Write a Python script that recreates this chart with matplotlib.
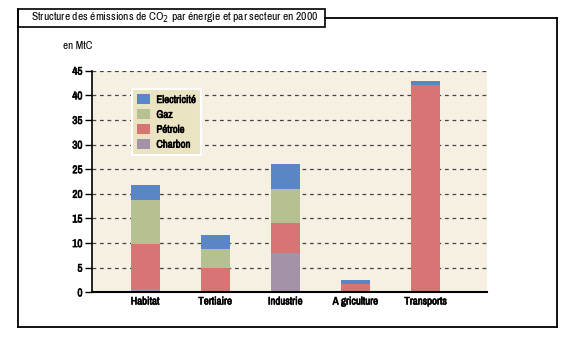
import matplotlib
matplotlib.use("Agg")
import matplotlib.pyplot as plt
import matplotlib.patheffects as pe
from matplotlib.lines import Line2D
from matplotlib.patches import Rectangle, Patch
import numpy as np

# Emissions by sector and energy source (MtC)
sectors = ["Habitat", "Tertiaire", "Industrie", "A griculture", "Transports"]
charbon = [0.7, 0.0, 8.0, 0.0, 0.0]
petrole = [9.1, 5.0, 6.1, 1.7, 42.0]
gaz = [8.9, 3.8, 6.9, 0.0, 0.0]
electricite = [3.1, 2.8, 5.1, 0.8, 0.9]
yticks = [0, 5, 10, 15, 20, 25, 30, 35, 40, 45]

COLORS = {
    "Electricité": "#5b86c6",
    "Gaz": "#b5c191",
    "Pétrole": "#d77474",
    "Charbon": "#a392a8",
}
FONT = ["Archivo Narrow", "DejaVu Sans"]
plt.rcParams["font.family"] = FONT

# narrow font has a single weight, thicken it with a thin stroke
HEAVY = [pe.withStroke(linewidth=0.45, foreground="black")]

fig = plt.figure(figsize=(5.76, 3.42), dpi=100)
ax = fig.add_axes([0.1602, 0.1453, 0.6848, 0.648])
ax.set_facecolor("#f6f0e3")

x = np.arange(len(sectors))
w = 0.41
bottom = np.zeros(len(sectors))
for label, vals in [("Charbon", charbon), ("Pétrole", petrole),
                    ("Gaz", gaz), ("Electricité", electricite)]:
    vals = np.array(vals)
    ax.bar(x, vals, w, bottom=bottom, color=COLORS[label], zorder=3)
    bottom += vals

ax.set_xlim(-0.754, 4.87)
ax.set_ylim(0, 45)
ax.set_yticks(yticks)
ax.set_yticklabels([str(t) for t in yticks], fontsize=8)
ax.set_xticks(x)
ax.set_xticklabels(sectors, fontsize=7.8)
for t in ax.get_xticklabels() + ax.get_yticklabels():
    t.set_path_effects(HEAVY)
ax.tick_params(axis="y", length=5, width=1, pad=2)
ax.tick_params(axis="x", length=0, pad=3)
ax.yaxis.grid(True, linestyle=(0, (3, 3)), color="#444444", linewidth=0.9, zorder=1)
ax.set_axisbelow(True)
for s in ["top", "right"]:
    ax.spines[s].set_visible(False)
ax.spines["left"].set_linewidth(1.2)
ax.spines["bottom"].set_linewidth(1.5)
ax.spines["bottom"].set_zorder(4)

handles = [Patch(facecolor=COLORS[k]) for k in COLORS]
leg = ax.legend(handles, list(COLORS.keys()), loc="upper left",
                bbox_to_anchor=(0.087, 0.942), frameon=True,
                fancybox=False, handlelength=1.2, handleheight=1.0,
                handletextpad=0.55, labelspacing=0.4, borderpad=0.5,
                prop={"family": FONT, "size": 7.8})
for t in leg.get_texts():
    t.set_path_effects(HEAVY)
leg.get_frame().set_facecolor("#ebe4c3")
leg.get_frame().set_edgecolor("white")
leg.get_frame().set_linewidth(1.5)
leg.get_frame().set_alpha(1)
leg.set_zorder(5)

fig.text(63 / 576, 1 - 46 / 342, "en MtC", fontsize=8, va="center", ha="left")

# outer frame with title tab
W, H = 576, 342
def fx(px):
    return px / W
def fy(py):
    return 1 - py / H
frame = [
    ([17.5, 17.5], [9, 327]),
    ([17.5, 557], [327, 327]),
    ([557, 557], [18, 327]),
    ([325, 557], [18, 18]),
]
for xs, ys in frame:
    fig.add_artist(Line2D([fx(v) for v in xs], [fy(v) for v in ys],
                          color="black", linewidth=1.3))
fig.add_artist(Rectangle((fx(17.5), fy(27)), fx(325) - fx(17.5), fy(9) - fy(27),
                         facecolor="white", edgecolor="black", linewidth=1.2,
                         transform=fig.transFigure))
fig.text(fx(31), fy(18), "Structure des émissions de CO$_2$ par énergie et par secteur en 2000",
         fontsize=8.3, va="center", ha="left")

fig.savefig("out.png", dpi=100)
